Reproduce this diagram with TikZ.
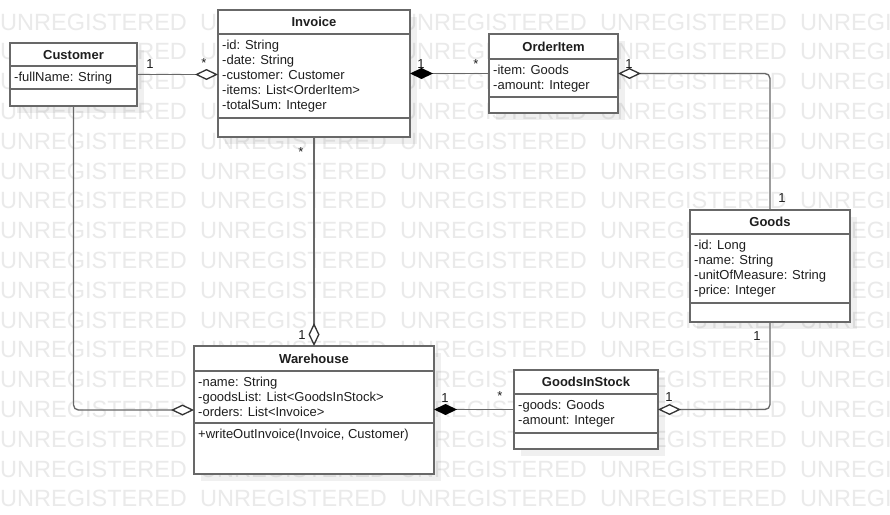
\documentclass[tikz,border=0pt]{standalone}
\usepackage{fontspec}
\setmainfont{Liberation Sans}
\usetikzlibrary{arrows.meta,shadows}
\definecolor{wmgray}{RGB}{234,234,234}
\definecolor{bordgray}{RGB}{104,104,104}
\definecolor{txtc}{RGB}{30,30,30}
\tikzset{
  cls/.style={rectangle, draw=bordgray, fill=white, line width=1.3pt, inner sep=0pt, outer sep=0pt,
    drop shadow={shadow xshift=7pt, shadow yshift=-7pt, fill=black, opacity=0.06}},
  bord/.style={draw=bordgray, line width=1.3pt},
  clstitle/.style={font=\fontsize{13}{15}\selectfont\bfseries, text=txtc, inner sep=0pt, anchor=base},
  attr/.style={font=\fontsize{13}{15}\selectfont, text=txtc, inner sep=0pt, anchor=base west},
  mult/.style={font=\fontsize{13}{15}\selectfont, text=txtc, inner sep=0pt, anchor=base},
  wm/.style={font=\fontsize{23.5}{28}\selectfont, text=wmgray, inner sep=0pt, anchor=base west},
  conn/.style={draw=bordgray, line width=1.3pt},
  odia/.style={-{Diamond[length=23pt,width=11pt,fill=white,color=black!80]}},
  fdia/.style={-{Diamond[length=23pt,width=11pt,color=black]}},
}
% name, L, T, R, B, h1, h2, title
\newcommand\umlcls[8]{%
  \node[cls, minimum width={#4-#2}, minimum height={#5-#3}] (#1) at ({(#2+#4)/2},{(#3+#5)/2}) {};
  \draw[bord] (#2,#6) -- (#4,#6) (#2,#7) -- (#4,#7);
  \node[clstitle] (#1-title) at ({(#2+#4)/2},{(#3+#6)/2+4.7}) {#8};
}
% name, x, first baseline, list
\newcommand\umlattrs[4]{%
  \foreach \txt [count=\i from 0] in {#4} {\node[attr] (#1-a\i) at (#2,{#3+15*\i}) {\txt};}
}
\begin{document}
\begin{tikzpicture}[x=1pt,y=-1pt]
\useasboundingbox (0,0) rectangle (890,514);
\fill[white] (0,0) rectangle (890,514);
% watermark
\foreach \r in {0,...,16} {
  \foreach \c in {0,...,4} {
    \node[wm] (wm-\r-\c) at ({200*\c},{30+29.8*\r}) {UNREGISTERED};
  }
}
% classes
\umlcls{cust}{10}{43}{137}{106}{66}{89}{Customer}
\umlattrs{cust}{14}{81}{-fullName: String}
\umlcls{inv}{218}{10}{410}{137}{34}{118}{Invoice}
\umlattrs{inv}{222}{49}{-id: String,-date: String,-customer: Customer,-items: List<OrderItem>,-totalSum: Integer}
\umlcls{oi}{489}{34}{618}{113}{59}{97}{OrderItem}
\umlattrs{oi}{493}{74}{-item: Goods,-amount: Integer}
\umlcls{goods}{690}{210}{850}{322}{234}{303}{Goods}
\umlattrs{goods}{694}{249}{-id: Long,-name: String,-unitOfMeasure: String,-price: Integer}
\umlcls{wh}{194}{346}{434}{474}{371}{423}{Warehouse}
\umlattrs{wh}{198}{386}{-name: String,-goodsList: List<GoodsInStock>,-orders: List<Invoice>}
\node[attr] (wh-m0) at (198,438) {+writeOutInvoice(Invoice, Customer)};
\umlcls{gis}{514}{370}{658}{449}{394}{433}{GoodsInStock}
\umlattrs{gis}{518}{409}{-goods: Goods,-amount: Integer}
% connectors
\draw[conn, odia] (cust.east) -- (cust.east -| inv.west);
\draw[conn, fdia] (oi.west) -- (oi.west -| inv.east);
\draw[conn, odia, rounded corners=5pt] (goods.north) |- (oi.east);
\draw[conn, odia] (inv.south) -- (wh.north);
\draw[conn, odia, rounded corners=5pt] (cust.south) |- (wh.west);
\draw[conn, fdia] (gis.west) -- (gis.west -| wh.east);
\draw[conn, odia, rounded corners=5pt] (goods.south) |- (gis.east);
% multiplicities
\node[mult] (m1) at (150,68) {1};
\node[mult] (m2) at (204,67.5) {*};
\node[mult] (m3) at (421,68) {1};
\node[mult] (m4) at (476,68) {*};
\node[mult] (m5) at (629,68) {1};
\node[mult] (m6) at (782,202) {1};
\node[mult] (m7) at (757,340) {1};
\node[mult] (m8) at (669,401) {1};
\node[mult] (m9) at (445,402) {1};
\node[mult] (m10) at (500,400) {*};
\node[mult] (m11) at (302,339) {1};
\node[mult] (m12) at (301,156) {*};
\end{tikzpicture}
\end{document}
